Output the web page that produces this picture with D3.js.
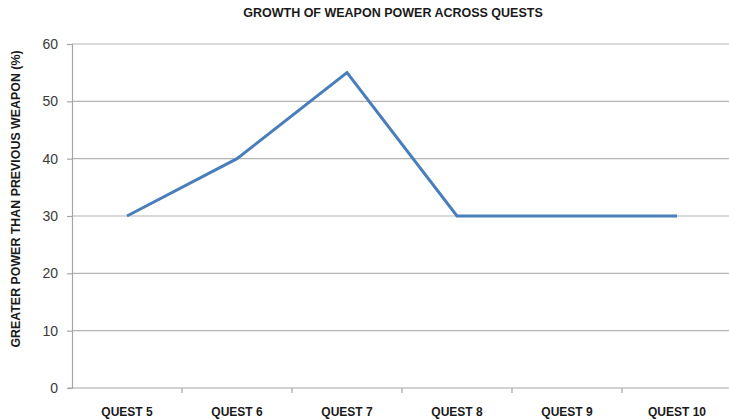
<!DOCTYPE html>
<html>
<head>
<meta charset="utf-8">
<script src="https://cdn.jsdelivr.net/npm/d3@7"></script>
<style>
  html, body { margin: 0; padding: 0; background: #fff; }
  svg { display: block; }
</style>
</head>
<body>
<svg id="chart" width="729" height="420"></svg>
<script>
// Weapon power growth per quest
const quests = ["QUEST 5", "QUEST 6", "QUEST 7", "QUEST 8", "QUEST 9", "QUEST 10"];
const growth = [30, 40, 55, 30, 30, 30];
const yTicks = [0, 10, 20, 30, 40, 50, 60];

const svg = d3.select("#chart");
const plotLeft = 72, plotTop = 44, plotBottom = 388, bandW = 110;
const font = "Liberation Sans, Arial, sans-serif";

const x = d3.scaleBand().domain(quests).range([plotLeft, plotLeft + bandW * quests.length]).padding(0);
const y = d3.scaleLinear().domain([0, 60]).range([plotBottom, plotTop]);

// Horizontal gridlines
svg.append("g")
  .selectAll("line")
  .data(yTicks.filter(d => d > 0))
  .join("line")
  .attr("x1", plotLeft).attr("x2", 729)
  .attr("y1", d => y(d)).attr("y2", d => y(d))
  .attr("stroke", "#b3b3b3").attr("stroke-width", 1.2);

// Y axis
const yAxis = svg.append("g")
  .attr("transform", `translate(${plotLeft},0)`)
  .call(d3.axisLeft(y).tickValues(yTicks).tickSize(5).tickPadding(9));
yAxis.select(".domain").attr("stroke", "#a6a6a6").attr("stroke-width", 1.2);
yAxis.selectAll(".tick line").attr("stroke", "#a6a6a6").attr("stroke-width", 1.2);
yAxis.selectAll(".tick text")
  .attr("font-family", font)
  .attr("font-size", 14).attr("fill", "#3a3a3a");

// X axis with category boundary ticks
const xAxisG = svg.append("g").attr("transform", `translate(0,${plotBottom})`);
xAxisG.append("line")
  .attr("x1", plotLeft - 4).attr("x2", 729)
  .attr("stroke", "#a6a6a6").attr("stroke-width", 1.2);
xAxisG.selectAll(".bound")
  .data(quests)
  .join("line")
  .attr("class", "bound")
  .attr("x1", d => x(d) + bandW).attr("x2", d => x(d) + bandW)
  .attr("y1", 0).attr("y2", 5)
  .attr("stroke", "#a6a6a6").attr("stroke-width", 1.2);
xAxisG.selectAll("text")
  .data(quests)
  .join("text")
  .attr("x", d => x(d) + x.bandwidth() / 2)
  .attr("y", 28)
  .attr("text-anchor", "middle")
  .attr("font-family", font)
  .attr("font-weight", "bold")
  .attr("font-size", 12)
  .attr("fill", "#1a1a1a")
  .text(d => d);

// Data line
const line = d3.line()
  .x((d, i) => x(quests[i]) + x.bandwidth() / 2)
  .y(d => y(d));
svg.append("path")
  .datum(growth)
  .attr("d", line)
  .attr("fill", "none")
  .attr("stroke", "#4a7ebb")
  .attr("stroke-width", 3)
  .attr("stroke-linejoin", "miter");

// Title
svg.append("text")
  .attr("x", 393).attr("y", 17)
  .attr("text-anchor", "middle")
  .attr("font-family", font)
  .attr("font-weight", "bold")
  .attr("font-size", 12.5)
  .attr("fill", "#1a1a1a")
  .text("GROWTH OF WEAPON POWER ACROSS QUESTS");

// Y axis title
svg.append("text")
  .attr("transform", "translate(20,199) rotate(-90)")
  .attr("text-anchor", "middle")
  .attr("font-family", font)
  .attr("font-weight", "bold")
  .attr("font-size", 12.4)
  .attr("fill", "#1a1a1a")
  .text("GREATER POWER THAN PREVIOUS WEAPON (%)");
</script>
</body>
</html>
